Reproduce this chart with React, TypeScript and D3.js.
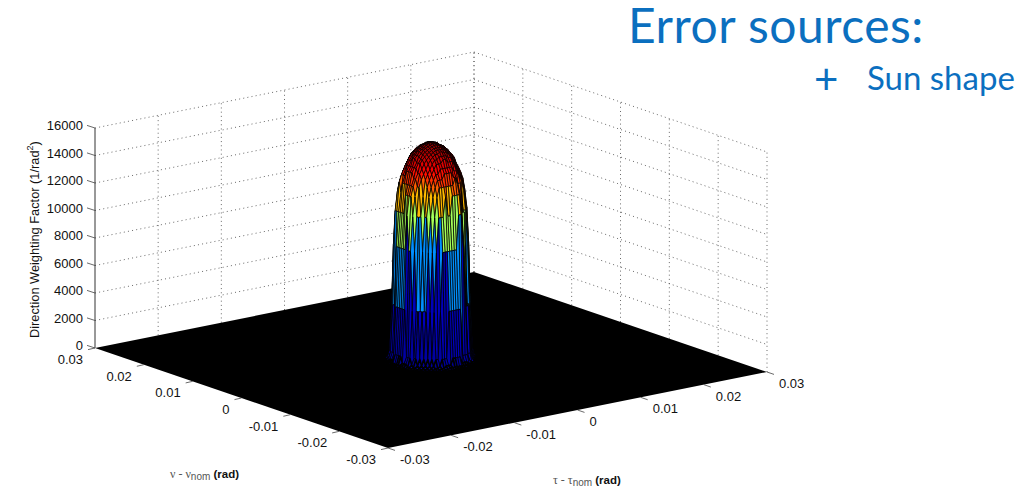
import React from 'react';
import * as d3 from 'd3';

// tick labels
const tauNuTicks = [-0.03, -0.02, -0.01, 0, 0.01, 0.02, 0.03];
const zTicks = [0, 2000, 4000, 6000, 8000, 10000, 12000, 14000, 16000];

const ringWidth = 0.00025;
const sunProfile = [
  15850, 15840, 15790, 15730, 15660, 15570, 15470, 15360, 15240, 15090, 14910,
  14650, 14320, 13980, 13600, 13100, 12400, 11000, 8500, 4200, 800, 350, 200,
  110, 70, 45, 30, 20, 14, 10, 7, 5, 3, 2, 1, 0,
];
// how far the rim of the disc swings in and out around the circle (the lobes on the front wall)
const rimLobes = [
  1.0, 1.03, 1.0, 0.96, 0.98, 1.03, 1.01, 0.96, 1.0, 1.04, 1.0, 0.95, 0.98, 1.03, 1.0, 0.96,
  1.0, 1.03, 0.99, 0.95, 0.98, 1.04, 1.02, 0.96, 0.99, 1.03, 1.01, 0.96, 1.0, 1.04, 0.99, 0.96,
];

const jetStops = ['#00008f', '#0000ff', '#00ffff', '#ffff00', '#ff0000', '#800000'];
const jetDomain = [0, 0.125, 0.375, 0.625, 0.875, 1];

// affine view of the matlab axes box
const tauX = d3.scaleLinear().domain([-0.03, 0.03]).range([0, 379]);
const tauY = d3.scaleLinear().domain([-0.03, 0.03]).range([0, -76]);
const nuX = d3.scaleLinear().domain([-0.03, 0.03]).range([388, 95]);
const nuY = d3.scaleLinear().domain([-0.03, 0.03]).range([448, 348]);
const zY = d3.scaleLinear().domain([0, 16000]).range([0, -220]);

const px = (t: number, n: number) => tauX(t) + nuX(n);
const py = (t: number, n: number, z = 0) => tauY(t) + nuY(n) + zY(z);

const jet = d3
  .scaleLinear<string>()
  .domain(jetDomain.map((d) => d * 15850))
  .range(jetStops)
  .clamp(true);

const ring = d3
  .scaleQuantize<number>()
  .domain([0, ringWidth * sunProfile.length])
  .range(sunProfile);
const lobe = d3.scaleQuantize<number>().domain([-Math.PI, Math.PI]).range(rimLobes);
const surfaceZ = (t: number, n: number) => {
  const base = Math.hypot(t, n);
  // the lobes only bend the rim, crown and foot stay round
  const onRim = base > 0.0036 && base < 0.0048;
  const r = onRim ? base / lobe(Math.atan2(n, t)) : base;
  return r >= ringWidth * sunProfile.length ? 0 : ring(r);
};

const cellSize = 0.00036;
const gridVals = d3.range(-27, 27).map((i) => i * cellSize + cellSize / 2);

function buildCells() {
  const cells: { d: string; fill: string; sw: number; depth: number }[] = [];
  for (const t of gridVals) {
    for (const n of gridVals) {
      const r = Math.hypot(t, n);
      if (r > 0.0095) continue;
      const corners: [number, number][] = [
        [t, n],
        [t + cellSize, n],
        [t + cellSize, n + cellSize],
        [t, n + cellSize],
      ];
      const p = d3.path();
      corners.forEach(([a, b], i) => {
        const x = px(a, b);
        const y = py(a, b, surfaceZ(a, b));
        if (i === 0) p.moveTo(x, y);
        else p.lineTo(x, y);
      });
      p.closePath();
      cells.push({
        d: p.toString(),
        fill: jet(surfaceZ(t, n)),
        sw: r > 0.0056 ? 1.6 : 0.75,
        depth: py(t, n),
      });
    }
  }
  return cells.sort((a, b) => a.depth - b.depth);
}

const FONT = '"Liberation Sans", Arial, sans-serif';
const gridStyle = { stroke: '#444', strokeWidth: 0.8, strokeDasharray: '1 3.2', fill: 'none' };

export default function App() {
  const cells = buildCells();
  const lo = -0.03;
  const hi = 0.03;
  const floor = [
    [lo, lo],
    [hi, lo],
    [hi, hi],
    [lo, hi],
  ]
    .map(([a, b]) => `${px(a, b)},${py(a, b)}`)
    .join(' ');

  return (
    <svg
      width={1034}
      height={490}
      style={{ position: 'absolute', left: 0, top: 0, background: '#fff' }}
      fontFamily={FONT}
    >
      {/* walls */}
      {zTicks.slice(1).map((z) => (
        <g key={z}>
          <line x1={px(lo, hi)} y1={py(lo, hi, z)} x2={px(hi, hi)} y2={py(hi, hi, z)} {...gridStyle} />
          <line x1={px(hi, hi)} y1={py(hi, hi, z)} x2={px(hi, lo)} y2={py(hi, lo, z)} {...gridStyle} />
        </g>
      ))}
      {tauNuTicks.map((v) => (
        <g key={v}>
          {v > lo && <line x1={px(v, hi)} y1={py(v, hi)} x2={px(v, hi)} y2={py(v, hi, 16000)} {...gridStyle} />}
          <line x1={px(hi, v)} y1={py(hi, v)} x2={px(hi, v)} y2={py(hi, v, 16000)} {...gridStyle} />
        </g>
      ))}

      {/* floor and z axis */}
      <polygon points={floor} fill="#000" />
      <line x1={px(lo, hi)} y1={py(lo, hi)} x2={px(lo, hi)} y2={py(lo, hi, 16000)} stroke="#333" strokeWidth={1} />

      {/* dome */}
      <g stroke="#000" strokeLinejoin="round">
        {cells.map((c, i) => (
          <path key={i} d={c.d} fill={c.fill} strokeWidth={c.sw} />
        ))}
      </g>

      {/* z ticks */}
      {zTicks.map((z) => {
        const x = px(lo, hi);
        const y = py(lo, hi, z);
        return (
          <g key={z}>
            <line x1={x} y1={y} x2={x - 8} y2={y - 2.6} stroke="#444" strokeWidth={0.8} />
            <text x={x - 12} y={y - 1} fontSize={13} textAnchor="end" dominantBaseline="middle" fill="#111">
              {z}
            </text>
          </g>
        );
      })}

      {/* nu ticks */}
      {tauNuTicks.map((v) => {
        const x = px(lo, v);
        const y = py(lo, v);
        return (
          <g key={v}>
            <line x1={x} y1={y} x2={x - 7} y2={y + 1.6} stroke="#444" strokeWidth={0.8} />
            <text x={x - 12} y={y + 12.5} fontSize={13} textAnchor="end" dominantBaseline="middle" fill="#111">
              {v}
            </text>
          </g>
        );
      })}

      {/* tau ticks */}
      {tauNuTicks.map((v) => {
        const x = px(v, lo);
        const y = py(v, lo);
        return (
          <g key={v}>
            <line x1={x} y1={y} x2={x + 7} y2={y + 2.4} stroke="#444" strokeWidth={0.8} />
            <text x={x + 12} y={y + 12.5} fontSize={13} textAnchor="start" dominantBaseline="middle" fill="#111">
              {v}
            </text>
          </g>
        );
      })}

      {/* axis labels */}
      <text x={170} y={478} fontSize={12} fill="#111">
        <tspan fontFamily="Liberation Serif" fill="#555">ν - ν</tspan>
        <tspan fontSize={10} dy={2} fill="#555">nom</tspan>
        <tspan dy={-2} fontWeight="bold" fontSize={11.5}> (rad)</tspan>
      </text>
      <text x={553} y={484} fontSize={12} fill="#111">
        <tspan fontFamily="Liberation Serif" fill="#555">τ - τ</tspan>
        <tspan fontSize={10} dy={2} fill="#555">nom</tspan>
        <tspan dy={-2} fontWeight="bold" fontSize={11.5}> (rad)</tspan>
      </text>
      <text transform="translate(39,338) rotate(-90)" fontSize={12.8} fill="#111">
        Direction Weighting Factor (1/rad
        <tspan fontSize={9} dy={-6}>2</tspan>
        <tspan dy={6}>)</tspan>
      </text>

      {/* slide text */}
      <text x={628} y={43} fontFamily="Lato" fontSize={48} letterSpacing={0.5} fill="#0b6fbf">
        Error sources:
      </text>
      <text x={814} y={94} fontFamily="Lato" fontSize={42} fill="#0b6fbf">
        +
      </text>
      <text x={867} y={90} fontFamily="Lato" fontSize={33} fill="#0b6fbf">
        Sun shape
      </text>
    </svg>
  );
}
